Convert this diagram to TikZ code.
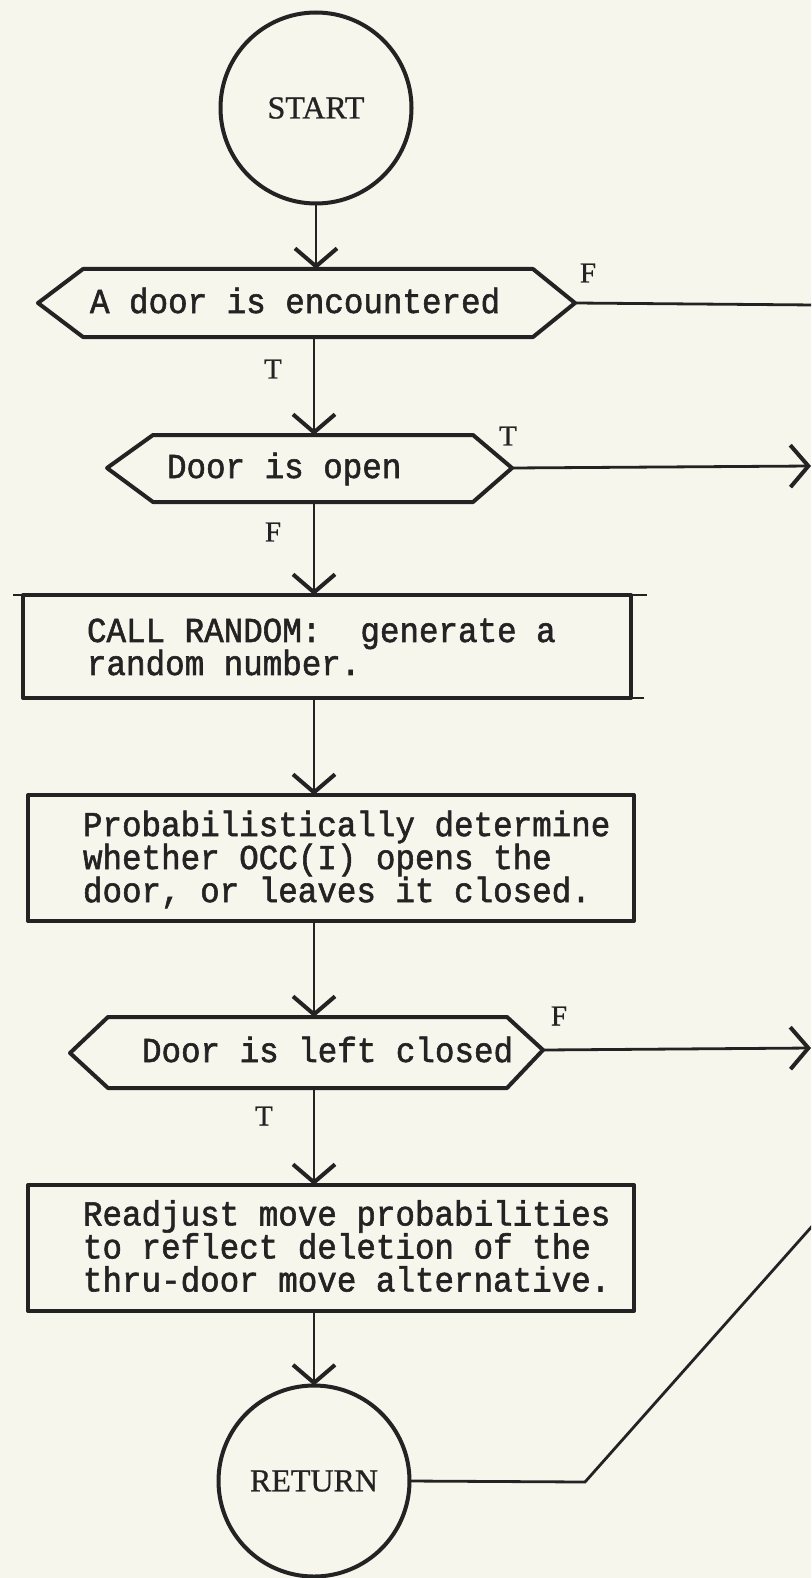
\documentclass[tikz,border=0pt]{standalone}
\usepackage{fontspec}
\setmainfont{Liberation Serif}
\newfontfamily\typer[FakeBold=1.6, FakeStretch=0.93]{Liberation Mono}
\newfontfamily\labelfont[FakeBold=0.8]{Liberation Serif}
\usetikzlibrary{arrows.meta}
\definecolor{paper}{RGB}{246,246,237}
\definecolor{ink}{RGB}{35,35,35}

\begin{document}
\begin{tikzpicture}[x=1pt, y=-1pt,
  every node/.style={inner sep=0pt, outer sep=0pt},
  outline/.style={draw=ink, line width=4pt, line join=round},
  core/.style={rectangle},
  procbox/.style={outline, rectangle},
  terminal/.style={outline, circle, minimum size=191pt, text=ink,
    font=\labelfont\fontsize{32}{32}\selectfont},
  typed/.style={font=\typer\fontsize{35}{33}\selectfont, text=ink, align=left},
  flag/.style={font=\labelfont\fontsize{29}{29}\selectfont, text=ink},
  plain/.style={draw=ink, line width=2.8pt},
  flow/.style={plain, -{Straight Barb[length=18pt, width=42pt, line width=4pt]}},
]
% sheet
\fill[paper] (0,0) rectangle (811,1578);
\useasboundingbox (0,0) rectangle (811,1578);
\clip (0,0) rectangle (811,1578);

\coordinate (spine) at (314,0);

% terminals
\node[terminal] (start) at (316,108) {START};
\node[terminal] (ret) at (314,1481) {RETURN};

% decision 1
\node[core, minimum width=450pt, minimum height=68pt] (d1) at (308,303) {};
\coordinate (d1w) at (38,303);
\coordinate (d1e) at (575,303);
\draw[outline] (d1w) -- (d1.north west) -- (d1.north east) -- (d1e)
  -- (d1.south east) -- (d1.south west) -- cycle;
\node[typed, anchor=base west] (d1t) at (90,313) {A door is encountered};

% decision 2
\node[core, minimum width=320pt, minimum height=67pt] (d2) at (313,468.5) {};
\coordinate (d2w) at (107,468);
\coordinate (d2e) at (512,468);
\draw[outline] (d2w) -- (d2.north west) -- (d2.north east) -- (d2e)
  -- (d2.south east) -- (d2.south west) -- cycle;
\node[typed, anchor=base west] (d2t) at (167,478) {Door is open};

% process 1
\node[procbox, minimum width=608pt, minimum height=103pt] (b1) at (327,646.5) {};
\node[typed, anchor=west] (b1t) at (87,647)
  {CALL RANDOM:\ \ generate a\\random number.};
\draw[plain, line width=2pt] (b1.north west) -- ++(-10,0);
\draw[plain, line width=2pt] (b1.north east) -- ++(16,0);
\draw[plain, line width=2pt] (b1.south east) -- ++(13,0);

% process 2
\node[procbox, minimum width=606pt, minimum height=126pt] (b2) at (331,858) {};
\node[typed, anchor=west] (b2t) at (83,859.5)
  {Probabilistically determine\\whether OCC(I) opens the\\door, or leaves it closed.};

% decision 3
\node[core, minimum width=399pt, minimum height=71pt] (d3) at (307.5,1052.5) {};
\coordinate (d3w) at (70,1053);
\coordinate (d3e) at (543,1050);
\draw[outline] (d3w) -- (d3.north west) -- (d3.north east) -- (d3e)
  -- (d3.south east) -- (d3.south west) -- cycle;
\node[typed, anchor=base west] (d3t) at (142,1062) {Door is left closed};

% process 3
\node[procbox, minimum width=606pt, minimum height=126pt] (b3) at (331,1248) {};
\node[typed, anchor=west] (b3t) at (83,1246)
  {Readjust move probabilities\\to reflect deletion of the\\thru-door move alternative.};

% main flow
\draw[flow] (start.south) -- (start.south |- d1.north);
\draw[flow] (d1.south -| spine) -- (d2.north -| spine);
\draw[flow] (d2.south -| spine) -- (b1.north -| spine);
\draw[flow] (b1.south -| spine) -- (b2.north -| spine);
\draw[flow] (b2.south -| spine) -- (d3.north -| spine);
\draw[flow] (d3.south -| spine) -- (b3.north -| spine);
\draw[flow] (b3.south -| spine) -- (ret.north);

% exits to the right
\coordinate (x1) at (815,305);
\coordinate (x2) at (811,466);
\coordinate (x3) at (811,1048);
\coordinate (bend) at (585,1482);
\coordinate (x4) at (822,1215);
\draw[plain] (d1e) -- (x1);
\draw[flow] (d2e) -- (x2);
\draw[flow] (d3e) -- (x3);
\draw[plain] (ret.east) -- (bend) -- (x4);

% branch labels
\node[flag] (t1) at (273,369) {T};
\node[flag] (f1) at (588,273) {F};
\node[flag] (t2) at (508,436) {T};
\node[flag] (f2) at (273,532) {F};
\node[flag] (f3) at (559,1016) {F};
\node[flag] (t3) at (264,1116) {T};
\end{tikzpicture}
\end{document}
